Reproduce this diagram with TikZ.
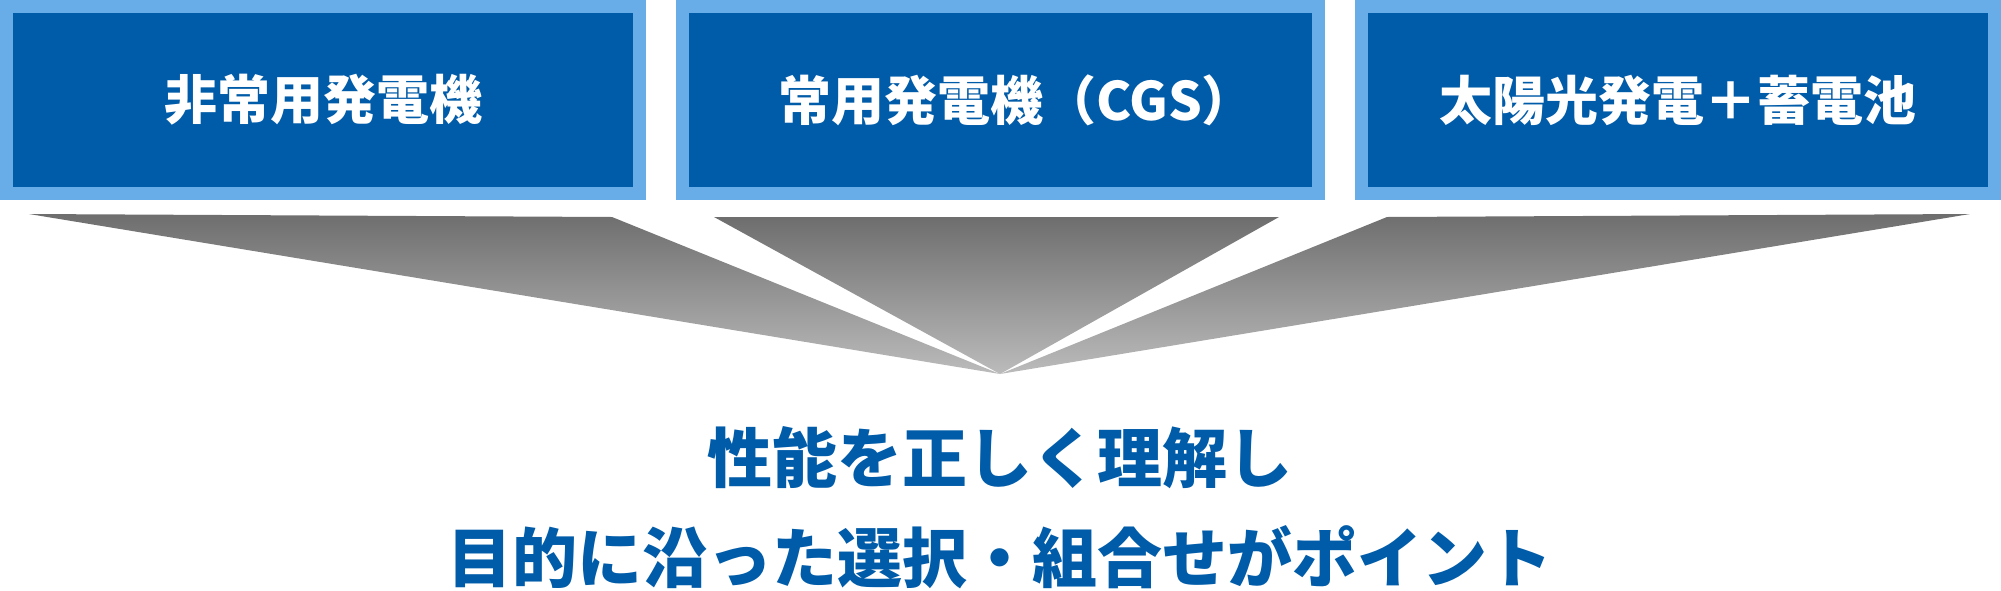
\documentclass[tikz,border=0pt]{standalone}
\usepackage{fontspec}
\newfontfamily\jp{Noto Sans CJK JP}
\definecolor{lightblue}{HTML}{69ADE8}
\definecolor{darkblue}{HTML}{005BA8}
\definecolor{graytop}{HTML}{6E6E6E}
\definecolor{graybot}{HTML}{BBBBBB}
\tikzset{
  genbox/.style={draw=lightblue, line width=6.5pt, fill=darkblue, inner sep=0pt, outer sep=0pt,
    minimum height=93.5pt, text=white, font=\jp\bfseries\fontsize{26.5pt}{30pt}\selectfont},
  boxtext/.style={text=white, inner sep=0pt, font=\jp\bfseries\fontsize{26.5pt}{30pt}\selectfont},
  fan/.style={top color=graytop, bottom color=graybot, draw=none},
  msg/.style={text=darkblue, font=\jp\bfseries\fontsize{32.5pt}{36pt}\selectfont, inner sep=0pt}
}
\begin{document}
\begin{tikzpicture}[x=0.5pt,y=-0.5pt]
\useasboundingbox (0,0) rectangle (2001,590);
\node[genbox, minimum width=316.5pt] (b1) at (323,100) {非常用発電機};
\node[genbox, minimum width=318pt] (b2) at (1000.5,100) {};
\node[boxtext] (b2t) at ([xshift=8pt]b2.center) {常用発電機（CGS）};
\node[genbox, minimum width=316.5pt] (b3) at (1678,100) {太陽光発電＋蓄電池};
\coordinate (apex) at (1000,374);
\shade[fan] (29,214) -- (612,217) -- (apex) -- cycle;
\shade[fan] (714,217) -- (1279,217) -- (apex) -- cycle;
\shade[fan] (1387,217) -- (1970,214) -- (apex) -- cycle;
\node[msg] (m1) at (1000,458) {性能を正しく理解し};
\node[msg] (m2) at (1000,557) {目的に沿った選択・組合せがポイント};
\end{tikzpicture}
\end{document}
